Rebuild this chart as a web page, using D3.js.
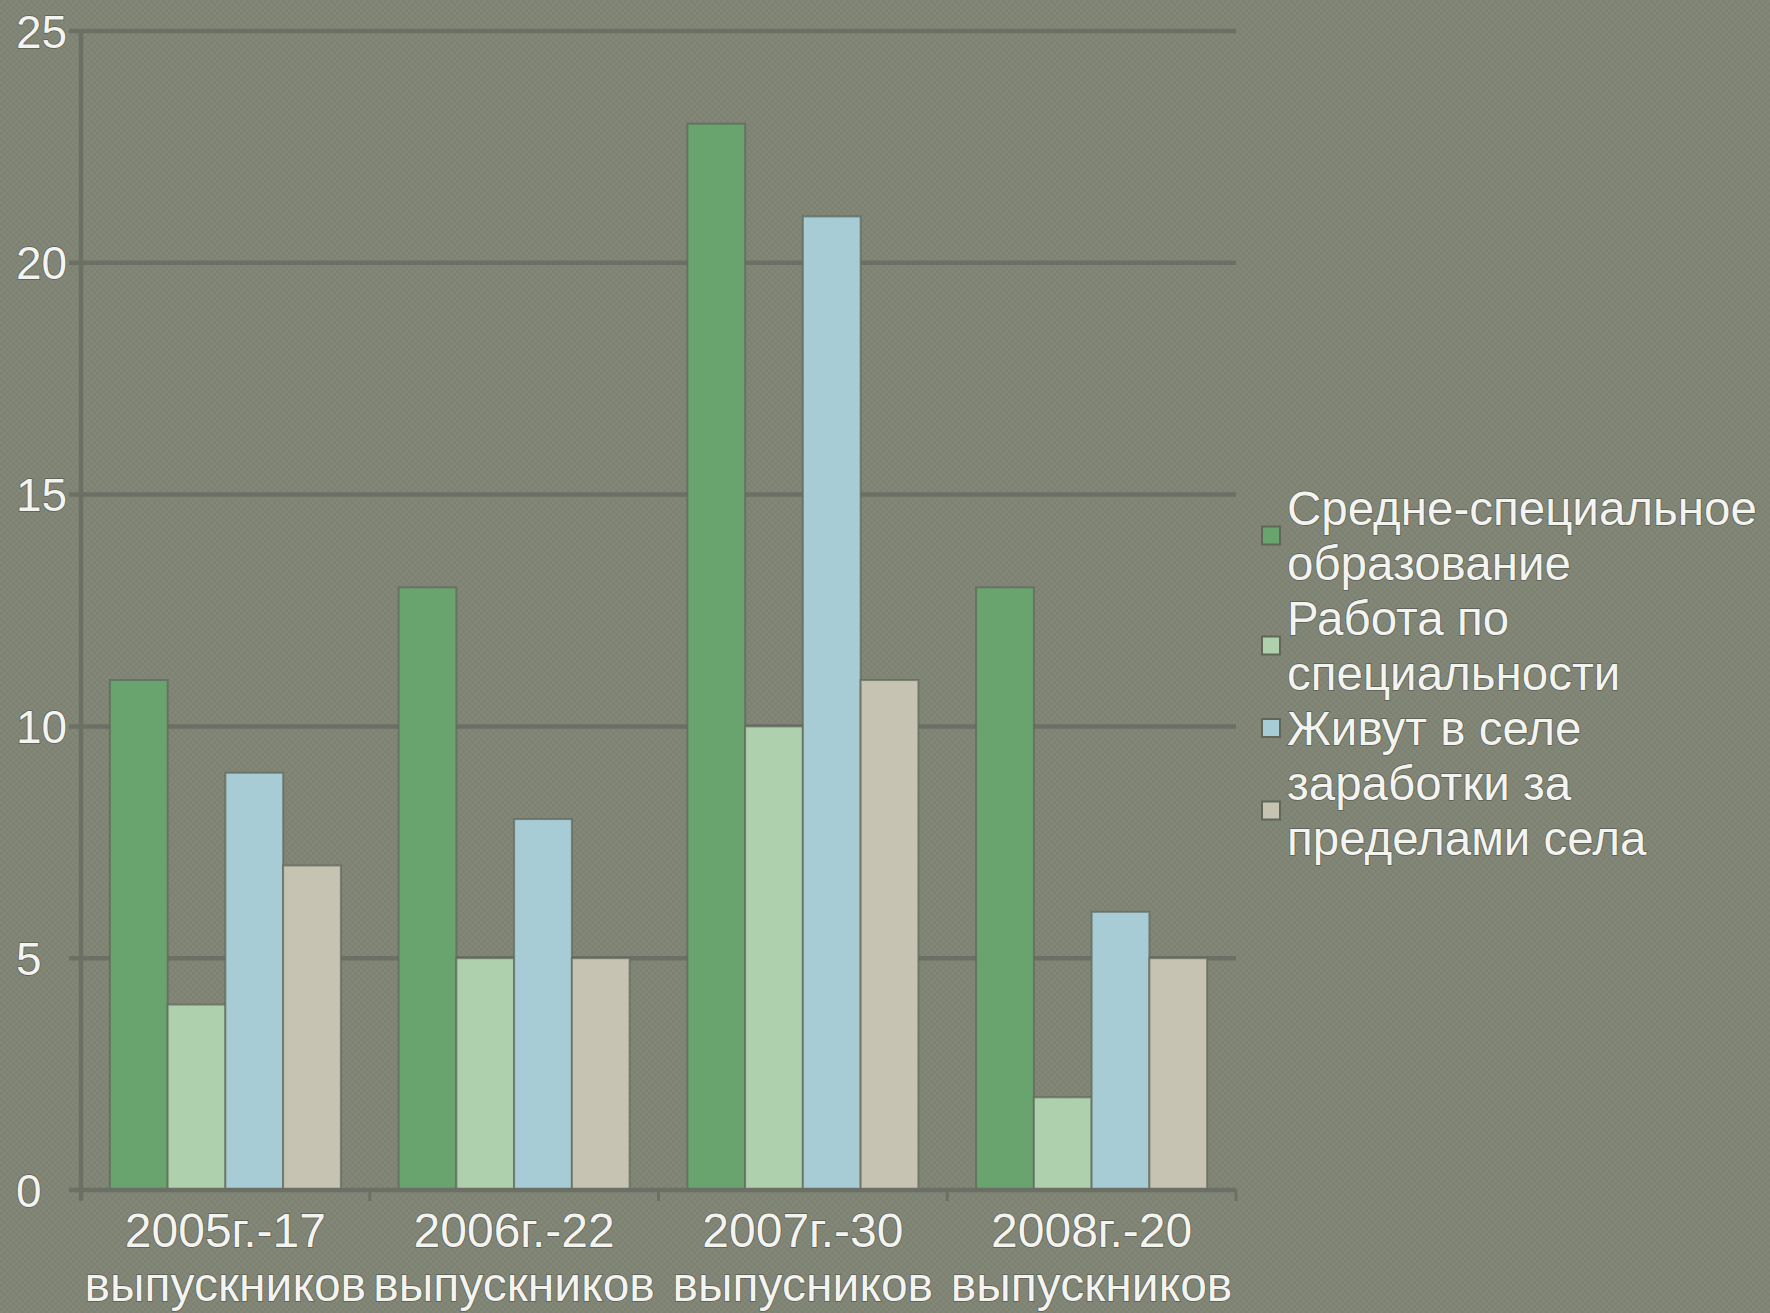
<!DOCTYPE html>
<html>
<head>
<meta charset="utf-8">
<script src="https://cdn.jsdelivr.net/npm/d3@7"></script>
<style>
  html, body { margin: 0; padding: 0; background: #828677; }
  svg { display: block; }
</style>
</head>
<body>
<div id="chart"></div>
<script>
(function(d3){

  // data
  var categories = [
    ['2005г.-17', 'выпускников'],
    ['2006г.-22', 'выпускников'],
    ['2007г.-30', 'выпусников'],
    ['2008г.-20', 'выпускников']
  ];
  var seriesNames = [
    ['Средне-специальное', 'образование'],
    ['Работа по', 'специальности'],
    ['Живут в селе'],
    ['заработки за', 'пределами села']
  ];
  var sredneSpec = [11, 13, 23, 13],
      rabotaPoSpec = [4, 5, 10, 2],
      zhivutVSele = [9, 8, 21, 6],
      zarabotki = [7, 5, 11, 5];
  var yTicks = [0, 5, 10, 15, 20, 25];

  var series = [sredneSpec, rabotaPoSpec, zhivutVSele, zarabotki],
      colors = ['#69a46f', '#afd0ac', '#a8ccd6', '#c6c3b3'],
      W = 1770, H = 1313,
      plot = {left: 81, right: 1236, top: 31, bottom: 1190},
      font = '"Liberation Sans", Arial, sans-serif';

  var svg = d3.select('#chart').append('svg')
      .attr('width', W)
      .attr('height', H);

  // faint checker texture of the slide background
  var pat = svg.append('defs').append('pattern')
      .attr('id', 'chk')
      .attr('width', 6).attr('height', 6)
      .attr('patternUnits', 'userSpaceOnUse');
  pat.append('rect').attr('width', 6).attr('height', 6).attr('fill', '#838778');
  pat.append('rect').attr('width', 3).attr('height', 3).attr('fill', '#7e8273');
  pat.append('rect').attr('x', 3).attr('y', 3).attr('width', 3).attr('height', 3).attr('fill', '#7e8273');
  svg.append('rect').attr('width', W).attr('height', H).attr('fill', 'url(#chk)');

  var x0 = d3.scaleBand()
      .domain(d3.range(categories.length))
      .range([plot.left, plot.right]);

  var x1 = d3.scaleBand()
      .domain(d3.range(series.length))
      .range([x0.bandwidth() * 0.1, x0.bandwidth() * 0.9]);

  var y = d3.scaleLinear()
      .domain([0, 25])
      .range([plot.bottom, plot.top]);

  // gridlines
  svg.append('g')
      .selectAll('line')
      .data(yTicks.filter(function(d) { return d > 0; }))
    .enter().append('line')
      .attr('x1', plot.left - 12)
      .attr('x2', plot.right)
      .attr('y1', function(d) { return y(d); })
      .attr('y2', function(d) { return y(d); })
      .attr('stroke', '#6c6f64')
      .attr('stroke-width', 4.5);

  // y axis line
  svg.append('line')
      .attr('x1', plot.left).attr('x2', plot.left)
      .attr('y1', plot.top).attr('y2', plot.bottom + 10)
      .attr('stroke', '#6c6f64')
      .attr('stroke-width', 4.5);

  // y labels, left aligned like the original
  svg.append('g')
      .selectAll('text')
      .data(yTicks)
    .enter().append('text')
      .attr('x', 16)
      .attr('y', function(d) { return y(d); })
      .attr('dy', '0.36em')
      .attr('font-family', font)
      .attr('font-size', 46)
      .attr('fill', '#f3f3ef')
      .attr('stroke', '#5b5e55')
      .attr('stroke-width', 1.5)
      .attr('paint-order', 'stroke')
      .text(function(d) { return d; });

  // bars
  var groups = svg.append('g')
      .selectAll('g')
      .data(categories)
    .enter().append('g')
      .attr('transform', function(d, i) { return 'translate(' + x0(i) + ',0)'; });

  groups.selectAll('rect')
      .data(function(d, i) { return series.map(function(s) { return s[i]; }); })
    .enter().append('rect')
      .attr('x', function(d, j) { return x1(j); })
      .attr('width', x1.bandwidth())
      .attr('y', function(d) { return y(d); })
      .attr('height', function(d) { return y(0) - y(d); })
      .attr('fill', function(d, j) { return colors[j]; })
      .attr('stroke', '#5e675a')
      .attr('stroke-opacity', 0.7)
      .attr('stroke-width', 2);

  // x axis baseline + ticks
  svg.append('line')
      .attr('x1', plot.left - 12).attr('x2', plot.right)
      .attr('y1', plot.bottom).attr('y2', plot.bottom)
      .attr('stroke', '#6c6f64')
      .attr('stroke-width', 4.5);

  svg.append('g')
      .selectAll('line')
      .data(d3.range(categories.length + 1))
    .enter().append('line')
      .attr('x1', function(i) { return plot.left + i * x0.step(); })
      .attr('x2', function(i) { return plot.left + i * x0.step(); })
      .attr('y1', plot.bottom)
      .attr('y2', plot.bottom + 11)
      .attr('stroke', '#6c6f64')
      .attr('stroke-width', 3);

  // x labels
  var xl = svg.append('g')
      .selectAll('text')
      .data(categories)
    .enter().append('text')
      .attr('text-anchor', 'middle')
      .attr('font-family', font)
      .attr('font-size', 48)
      .attr('fill', '#f3f3ef')
      .attr('stroke', '#5b5e55')
      .attr('stroke-width', 1.5)
      .attr('paint-order', 'stroke');

  xl.selectAll('tspan')
      .data(function(d, i) { return d.map(function(t) { return {t: t, i: i}; }); })
    .enter().append('tspan')
      .attr('x', function(d) { return x0(d.i) + x0.bandwidth() / 2; })
      .attr('y', function(d, k) { return 1247 + k * 54; })
      .text(function(d) { return d.t; });

  // legend
  var lineH = 55, base = 525, leg = [];
  seriesNames.forEach(function(lines, j) {
    leg.push({lines: lines, j: j, y: base});
    base += lines.length * lineH;
  });

  var li = svg.append('g')
      .selectAll('g')
      .data(leg)
    .enter().append('g');

  li.append('rect')
      .attr('x', 1262)
      .attr('y', function(d) { return d.y + (d.lines.length - 1) * lineH / 2 - 17 - 9; })
      .attr('width', 18)
      .attr('height', 18)
      .attr('fill', function(d) { return colors[d.j]; })
      .attr('stroke', '#5e675a')
      .attr('stroke-width', 2);

  li.append('text')
      .attr('font-family', font)
      .attr('font-size', 47.5)
      .attr('fill', '#f3f3ef')
      .attr('stroke', '#5b5e55')
      .attr('stroke-width', 1.5)
      .attr('paint-order', 'stroke')
    .selectAll('tspan')
      .data(function(d) { return d.lines.map(function(t, k) { return {t: t, y: d.y + k * lineH}; }); })
    .enter().append('tspan')
      .attr('x', 1287)
      .attr('y', function(d) { return d.y; })
      .text(function(d) { return d.t; });

})(d3);
</script>
</body>
</html>
